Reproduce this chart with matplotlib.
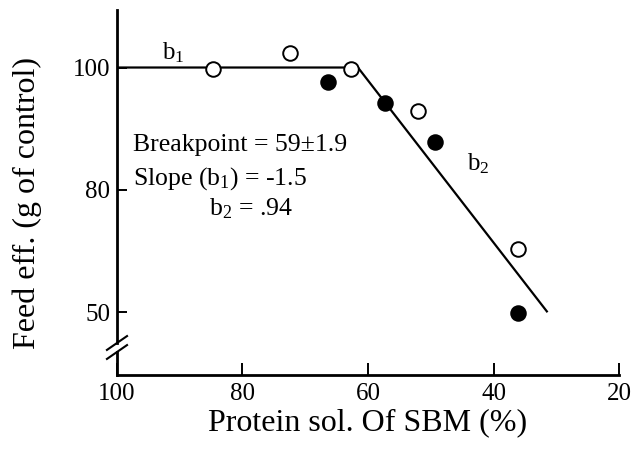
import numpy as np
import matplotlib
matplotlib.use('Agg')
import matplotlib.pyplot as plt
from matplotlib.lines import Line2D

plt.rcParams['font.family'] = ['Liberation Serif', 'DejaVu Serif']
plt.rcParams['mathtext.fontset'] = 'custom'
plt.rcParams['mathtext.rm'] = 'Liberation Serif'
plt.rcParams['mathtext.it'] = 'Liberation Serif:italic'

# open circles
open_x = [84.7, 72.4, 62.7, 52.0, 36.1]
open_y = [99.8, 102.3, 99.8, 92.9, 65.6]
# filled circles
fill_x = [66.4, 57.3, 49.3, 36.1]
fill_y = [97.6, 94.2, 87.9, 49.7]
# broken-line fit
fit_x = [100, 61.6, 31.5]
fit_y = [100, 100, 50.2]

y_ticks = [50, 80, 100]

# y axis is drawn with unequal spacing: 50-80 and 80-100 take the same length
def fwd(y):
    y = np.asarray(y, dtype=float)
    return np.where(y >= 80, 1 + (y - 80) / 20.0, (y - 50) / 30.0)

def inv(v):
    v = np.asarray(v, dtype=float)
    return np.where(v >= 1, 80 + (v - 1) * 20.0, 50 + v * 30.0)

fig = plt.figure(figsize=(6.31, 4.49), dpi=100)
ax = fig.add_axes([0.1854, 0.1648, 0.7956, 0.8129])
ax.set_yscale('function', functions=(fwd, inv))

ax.plot(fit_x, fit_y, color='black', lw=1.6, zorder=2)
ax.plot(open_x, open_y, 'o', ms=10.5, mfc='white', mec='black', mew=1.4, zorder=3)
ax.plot(fill_x, fill_y, 'o', ms=10.5, mfc='black', mec='black', mew=1.4, zorder=3)

ax.set_xlim(100, 20)
ax.set_ylim(34.6, 109.4)
ax.set_xticks([100, 80, 60, 40, 20])
ax.set_yticks(y_ticks)
ax.set_yticks([], minor=True)
ax.tick_params(axis='x', direction='in', length=9, width=1.4, labelsize=18, pad=6)
ax.tick_params(axis='y', direction='in', length=7, width=1.4, labelsize=18, pad=5)

for s in ['top', 'right']:
    ax.spines[s].set_visible(False)
ax.spines['bottom'].set_linewidth(2)
ax.spines['left'].set_visible(False)

# left axis with a break near the bottom
lw = 2
ax.add_line(Line2D([0, 0], [0.0877, 1], transform=ax.transAxes, color='black', lw=lw, clip_on=False))
ax.add_line(Line2D([0, 0], [0, 0.063], transform=ax.transAxes, color='black', lw=lw, clip_on=False))
for yb in [0.0877, 0.063]:
    ax.add_line(Line2D([-0.02, 0.02], [yb - 0.019, yb + 0.019], transform=ax.transAxes,
                       color='black', lw=1.5, clip_on=False))

ax.set_xlabel('Protein sol. Of SBM (%)', fontsize=23, labelpad=2)
ax.set_ylabel('Feed eff. (g of control)', fontsize=23)
ax.yaxis.set_label_coords(-0.149, 0.47)

ax.text(91.1, 102.4, r'b$_1$', fontsize=18, ha='center', va='center')
ax.text(42.5, 84.2, r'b$_2$', fontsize=18, ha='center', va='center')
ax.text(97.5, 87.3, 'Breakpoint = 59\u00b11.9', fontsize=18.5, ha='left', va='center')
ax.text(97.5, 81.9, r'Slope (b$_1$) = -1.5', fontsize=18.5, ha='left', va='center')
ax.text(85.3, 75.5, r'b$_2$ = .94', fontsize=18.5, ha='left', va='center')

plt.savefig('out.png', dpi=100)
